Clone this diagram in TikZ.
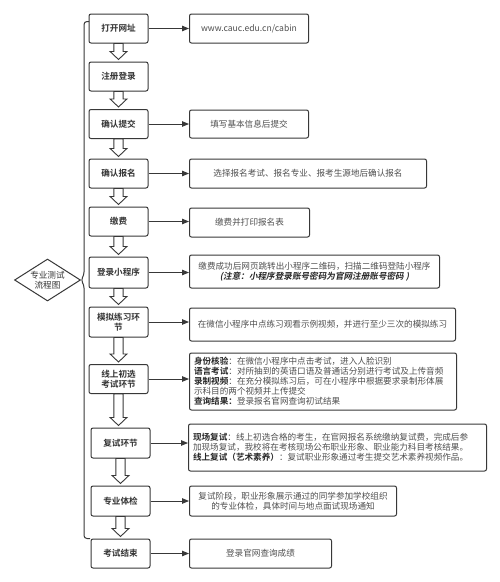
\documentclass[tikz,border=0pt]{standalone}
\usepackage{fontspec}
\setmainfont{Noto Sans CJK SC}[BoldFont={Noto Sans CJK SC Bold}]
\newfontfamily\notefont{Noto Sans CJK SC Bold}[FakeSlant=0.2]
\usepackage{xcolor}
\usepackage{tikz}
\usetikzlibrary{positioning, arrows.meta, shapes.geometric, calc}
\definecolor{linegray}{HTML}{383838}
\definecolor{textgray}{HTML}{4F4F4F}
\newcommand{\flowfont}{\fontsize{8.6}{10}\selectfont}

\begin{document}
\begin{tikzpicture}[x=1pt, y=-1pt,
    stepbox/.style={draw=linegray, line width=1pt, rounded corners=2pt, fill=white, minimum width=59pt, inner sep=1pt, align=center, font=\flowfont\bfseries, text=black!80},
    infobox/.style={draw=linegray, line width=1pt, rounded corners=2pt, anchor=west, inner xsep=4.5pt, inner ysep=1pt, align=center, font=\flowfont, text=textgray},
    titlebox/.style={draw=linegray, line width=1pt, diamond, aspect=1.6, inner sep=0pt, minimum width=66pt, minimum height=42pt, align=center, font=\flowfont, text=black!80},
    conn/.style={draw=linegray, line width=0.9pt, -{Triangle[length=7pt, width=5.5pt]}},
    hollow/.style={draw=linegray, line width=0.9pt, fill=white, line join=miter}]
    \fill[white] (0,0) rectangle (500,582);
    \useasboundingbox (0,0) rectangle (500,582);
    % Steps (left column)
    \foreach \n/\x/\y/\h/\txt in {1/118.5/28.5/29/打开网址, 2/118.5/76.5/29/注册登录,
        3/118.5/124/29/确认提交, 4/118.5/173.5/29/确认报名, 5/118.5/221.5/29/缴费,
        6/118.5/272.5/31/登录小程序, 7/118.5/322/30/{模拟练习环\\节},
        8/118.5/379/29/{线上初选\\考试环节}, 9/120.5/443/30/复试环节,
        10/120.5/501/30/专业体检, 11/120.5/553.5/29/考试结束} {
        \node[stepbox, minimum height=\h pt] (s\n) at (\x,\y) {\txt};
    }
    % Details (right column)
    \foreach \n/\y/\w/\h/\txt in {1/28.5/119/29/{www.cauc.edu.cn/cabin}, 3/124/119/28/填写基本信息后提交,
        4/173.5/237/29/选择报名考试、报名专业、报考生源地后确认报名, 5/222.5/120/29/缴费并打印报名表,
        6/271.5/250/33/{缴费成功后网页跳转出小程序二维码，扫描二维码登陆小程序\\{\notefont\color{black!85}(注意：小程序登录账号密码为官网注册账号密码 )}},
        7/324.5/266/33/在微信小程序中点练习观看示例视频，并进行至少三次的模拟练习,
        10/501/207/30/{复试阶段，职业形象展示通过的同学参加学校组织\\的专业体检，具体时间与地点面试现场通知},
        11/553.5/142/29/登录官网查询成绩} {
        \node[infobox, minimum width=\w pt, minimum height=\h pt] (r\n) at (189,\y) {\txt};
    }
    \node[infobox, minimum height=57pt, text width=258pt, align=left] (r8) at (189,381.5)
        {{\bfseries\color{black!85}身份核验}：在微信小程序中点击考试，进入人脸识别\\
         {\bfseries\color{black!85}语言考试}：对所抽到的英语口语及普通话分别进行考试及上传音频\\
         {\bfseries\color{black!85}录制视频}：在充分模拟练习后，可在小程序中根据要求录制形体展\\
         示科目的两个视频并上传提交\\
         {\bfseries\color{black!85}查询结果：}登录报名官网查询初试结果};
    \node[infobox, minimum height=47pt, text width=289pt, align=left] (r9) at (188,447.5)
        {{\bfseries\color{black!85}现场复试}：线上初选合格的考生，在官网报名系统缴纳复试费，完成后参\\
         加现场复试，我校将在考核现场公布职业形象、职业能力科目考核结果。\\
         {\bfseries\color{black!85}线上复试（艺术素养）}：复试职业形象通过考生提交艺术素养视频作品。};
    % Connectors
    \foreach \n in {1,3,4,5,6,7,8,9,10,11} {
        \draw[conn] (s\n.east) -- (s\n.east -| r\n.west);
    }
    % Hollow arrows between steps
    \foreach \a/\b in {1/2, 2/3, 3/4, 4/5, 5/6, 6/7, 7/8, 8/9, 9/10, 10/11} {
        \draw[hollow] let \p1=(s\a.south), \p2=(s\b.north) in
            (\x1-4.6pt,\y1) -- (\x1-4.6pt,\y2+10pt) -- (\x1-8.4pt,\y2+10pt) -- (\x1,\y2+2pt)
            -- (\x1+8.4pt,\y2+10pt) -- (\x1+4.6pt,\y2+10pt) -- (\x1+4.6pt,\y1) -- cycle;
    }
    % Title and frame
    \node[titlebox] (title) at (47.5,280) {专业测试\\流程图};
    \draw[linegray, line width=1pt, rounded corners=3pt] (89,21.5) -- (84,21.5) -- (84,275)
        -- (title.east) -- (84,285) -- (84,538.5) -- (90,538.5);
\end{tikzpicture}
\end{document}
